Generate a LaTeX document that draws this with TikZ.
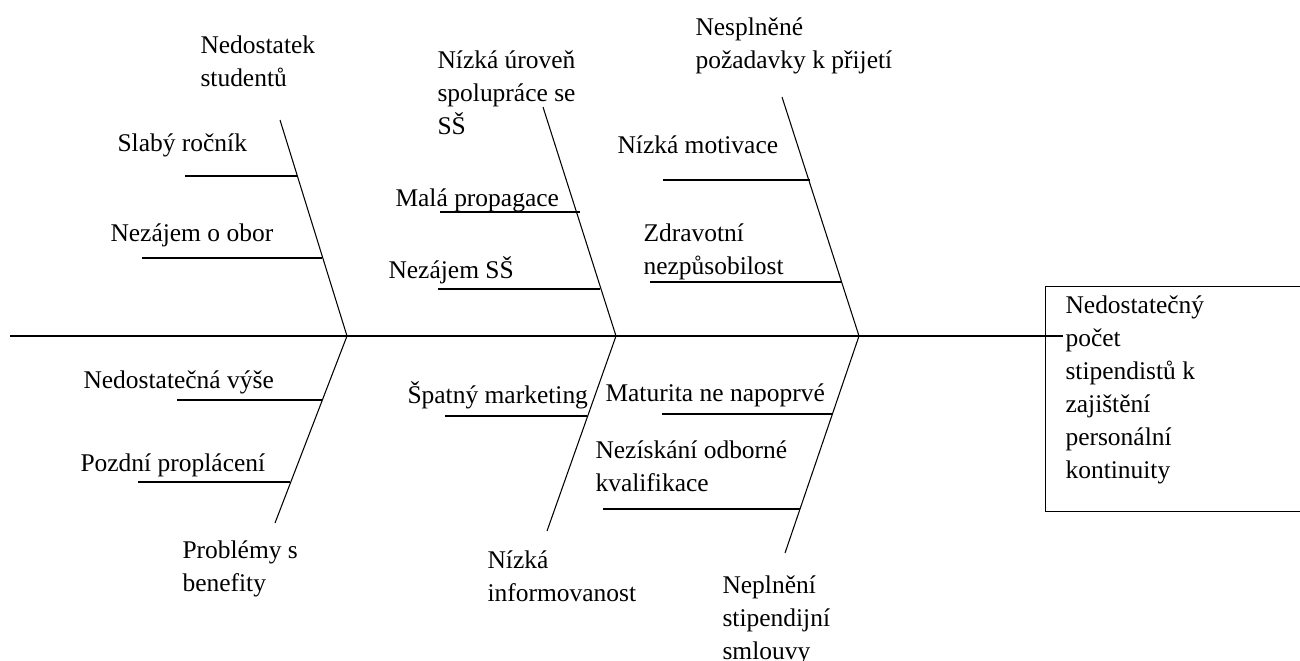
\documentclass[tikz,border=0pt]{standalone}
\usepackage{fontspec}
\setmainfont{Liberation Serif}
\usetikzlibrary{positioning,calc}

\begin{document}
\begin{tikzpicture}[x=0.02cm, y=-0.02cm, line width=0.6pt,
    cause/.style={inner sep=0pt, font=\fontsize{14.5}{18.8}\selectfont, align=left},
    spine/.style={line width=0.9pt},
    effectbox/.style={draw, line width=0.8pt, anchor=north west, inner sep=0pt,
        minimum width=5.4cm, minimum height=4.5cm}]
    \useasboundingbox (0,0) rectangle (1300,660);

    % Spine and effect
    \node[effectbox] (effect) at (1045,286) {};
    \node[cause, anchor=north west] (effectText) at (1065,295)
        {Nedostatečný\\počet\\stipendistů k\\zajištění\\personální\\kontinuity};
    \coordinate (tail) at (10,336);
    \coordinate (spineEnd) at (1063,336);
    \draw[spine] (tail) -- (spineEnd);

    % Heads of the bones
    \coordinate (h1) at (347,336);
    \coordinate (h2) at (616,336);
    \coordinate (h3) at (859,336);

    % Upper bones
    \coordinate (t1) at (280,120);
    \coordinate (t2) at (543,107);
    \coordinate (t3) at (782,97);
    \draw (t1) -- (h1);
    \draw (t2) -- (h2);
    \draw (t3) -- (h3);

    % Lower bones
    \coordinate (b1) at (275,523);
    \coordinate (b2) at (547,531);
    \coordinate (b3) at (785,553);
    \draw (h1) -- (b1);
    \draw (h2) -- (b2);
    \draw (h3) -- (b3);

    % Sub-causes (free end / end on the bone)
    \foreach \n/\xa/\xb/\y in {s1/185/297/176, s2/142/322/258,
                               s3/440/580/212, s4/438/600/289,
                               s5/663/810/180, s6/650/842/282,
                               s7/177/322/400, s8/138/290/482,
                               s9/445/587/416,
                               s10/662/833/414, s11/603/800/509} {
        \coordinate (\n a) at (\xa,\y);
        \coordinate (\n b) at (\xb,\y);
        \draw (\n a) -- (\n b);
    }

    % Labels, upper left
    \node[cause, anchor=north west] (nedStud) at (200,35) {Nedostatek\\studentů};
    \node[cause, anchor=west] (slaby) at (117,145) {Slabý ročník};
    \node[cause, anchor=west] (nezObor) at (110,235) {Nezájem o obor};

    % Labels, upper middle
    \node[cause, anchor=north west] (nizUrov) at (437,50) {Nízká úroveň\\spolupráce se\\SŠ};
    \node[cause, anchor=west] (malaProp) at (395,200) {Malá propagace};
    \node[cause, anchor=west] (nezSS) at (388,270) {Nezájem SŠ};

    % Labels, upper right
    \node[cause, anchor=north west] (nespl) at (695,17) {Nesplněné\\požadavky k přijetí};
    \node[cause, anchor=west] (motiv) at (617,145) {Nízká motivace};
    \node[cause, anchor=north west] (zdrav) at (643,223) {Zdravotní\\nezpůsobilost};

    % Labels, lower left
    \node[cause, anchor=west] (nedVyse) at (83,382) {Nedostatečná výše};
    \node[cause, anchor=west] (pozdni) at (80,465) {Pozdní proplácení};
    \node[cause, anchor=north west] (problemy) at (182,540) {Problémy s\\benefity};

    % Labels, lower middle
    \node[cause, anchor=west] (spatny) at (407,395) {Špatný marketing};
    \node[cause, anchor=north west] (nizInfo) at (487,550) {Nízká\\informovanost};

    % Labels, lower right
    \node[cause, anchor=west] (maturita) at (605,395) {Maturita ne napoprvé};
    \node[cause, anchor=north west] (neziskani) at (595,440) {Nezískání odborné\\kvalifikace};
    \node[cause, anchor=north west] (neplneni) at (722,575) {Neplnění\\stipendijní\\smlouvy};
\end{tikzpicture}
\end{document}
